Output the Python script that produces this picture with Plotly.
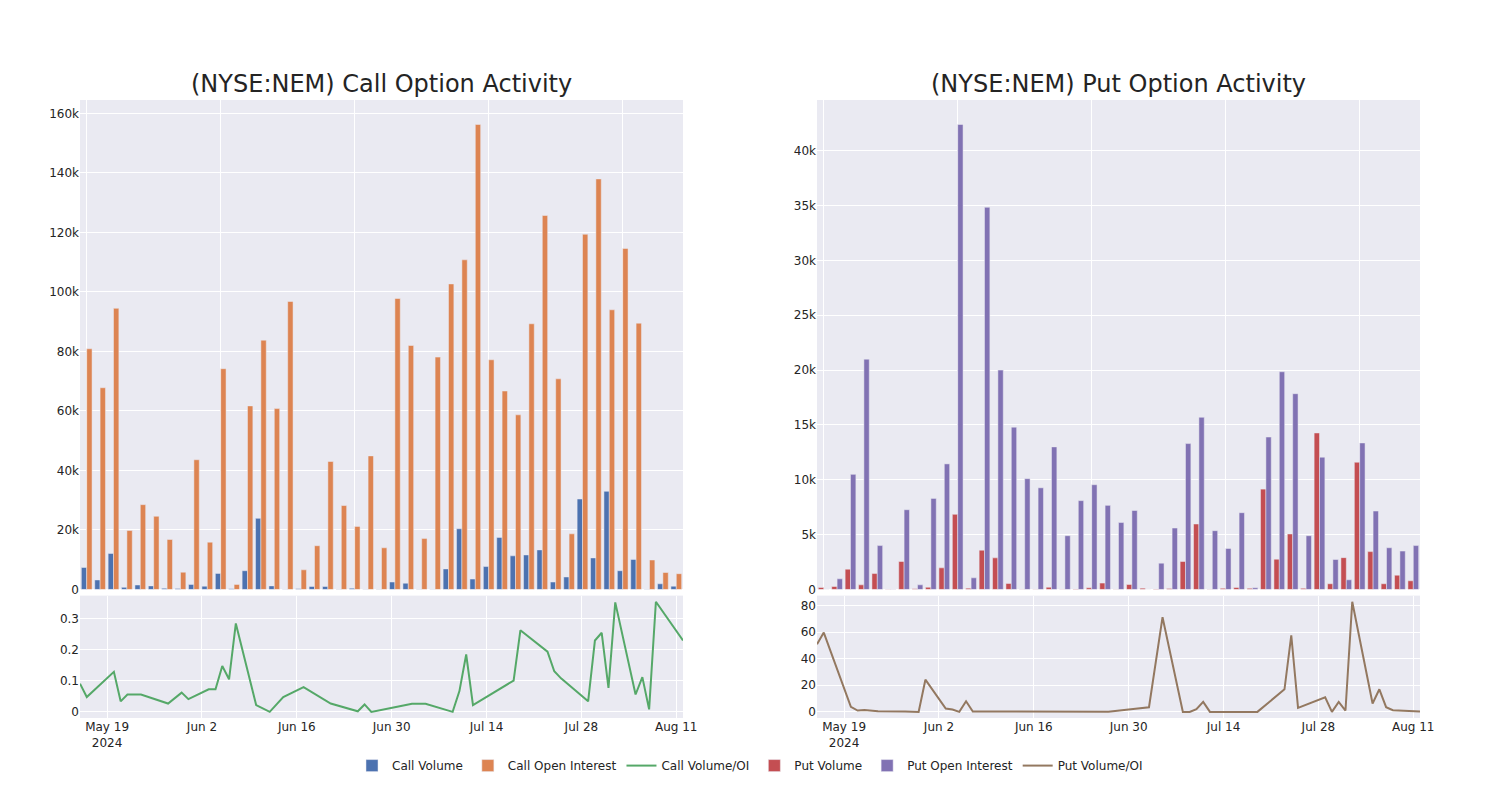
import plotly.graph_objects as go
from plotly.subplots import make_subplots

dates = ["2024-05-15", "2024-05-16", "2024-05-20", "2024-05-21", "2024-05-22", "2024-05-24",
         "2024-05-28", "2024-05-30", "2024-05-31", "2024-06-03", "2024-06-04", "2024-06-05",
         "2024-06-06", "2024-06-07", "2024-06-10", "2024-06-12", "2024-06-14", "2024-06-17",
         "2024-06-21", "2024-06-25", "2024-06-26", "2024-06-27", "2024-07-01", "2024-07-03",
         "2024-07-05", "2024-07-08", "2024-07-09", "2024-07-10", "2024-07-11", "2024-07-12",
         "2024-07-18", "2024-07-19", "2024-07-23", "2024-07-24", "2024-07-25", "2024-07-29",
         "2024-07-30", "2024-07-31", "2024-08-01", "2024-08-02", "2024-08-05", "2024-08-06",
         "2024-08-07", "2024-08-08", "2024-08-12"]

call_volume = [7400, 3200, 12100, 700, 1500, 1200, 400, 300, 1700, 1100, 5400, 250, 6300, 23900,
               1200, 50, 200, 1000, 1000, 50, 400, 50, 100, 2500, 2100, 100, 50, 6900, 20400,
               3500, 7700, 17500, 11300, 11600, 13300, 2500, 4200, 30400, 10600, 33000, 6300,
               10100, 100, 1900, 1100]
call_oi = [80900, 67800, 94500, 19800, 28500, 24600, 16800, 5800, 43600, 15900, 74200, 1700,
           61700, 83800, 60800, 96800, 6600, 14700, 43000, 28200, 21200, 44900, 14000, 97800,
           82000, 17100, 78100, 102700, 110800, 156300, 77200, 66700, 58700, 89300, 125700,
           70800, 18700, 119400, 138000, 94000, 114600, 89500, 9900, 5700, 5300]
call_ratio = [0.091, 0.048, 0.129, 0.034, 0.056, 0.056, 0.027, 0.062, 0.041, 0.073, 0.073,
              0.148, 0.105, 0.285, 0.022, 0.0, 0.048, 0.080, 0.027, 0.002, 0.024, 0.0, 0.017,
              0.026, 0.026, 0.006, 0.0, 0.067, 0.185, 0.022, 0.101, 0.263, 0.194, 0.131, 0.108,
              0.034, 0.230, 0.255, 0.077, 0.353, 0.056, 0.112, 0.008, 0.355, 0.230]

put_volume = [180, 270, 1850, 420, 1450, 30, 2550, 60, 200, 1970, 6850, 120, 3580, 2880, 550,
              20, 20, 200, 30, 50, 150, 580, 20, 450, 120, 50, 80, 2550, 5970, 20, 100, 180,
              100, 9150, 2760, 5060, 100, 14270, 520, 2900, 11600, 3450, 520, 1300, 790]
put_oi = [4, 970, 10500, 21000, 4000, 30, 7270, 420, 8300, 11450, 42400, 1060, 34850, 20000,
          14800, 10100, 9270, 13000, 4900, 8100, 9550, 7670, 6100, 7200, 2, 2400, 5600, 13300,
          15700, 5360, 3730, 7000, 150, 13900, 19850, 17850, 4900, 12060, 2730, 880, 13360,
          7150, 3800, 3500, 4000]
put_ratio = [50.8, 59.6, 3.8, 1.0, 1.5, 0.5, 0.3, 0.0, 24.2, 2.5, 1.8, 0.0, 8.0, 0.3, 0.3, 0.25,
             0.2, 0.2, 0.15, 0.1, 0.1, 0.1, 2.3, 3.5, 71.2, 0.0, 0.0, 2.0, 7.5, 0.0, 0.0, 0.0,
             17.0, 57.6, 3.0, 11.0, 0.0, 7.5, 1.0, 82.8, 6.3, 17.0, 3.5, 1.3, 0.3]

titles = ["(NYSE:NEM) Call Option Activity", "(NYSE:NEM) Put Option Activity"]

fig = make_subplots(rows=2, cols=2, row_heights=[0.8, 0.2], vertical_spacing=0.01,
                    horizontal_spacing=0.1, subplot_titles=titles)

fig.add_trace(go.Bar(x=dates, y=call_volume, name="Call Volume", marker_color="#4c72b0"), row=1, col=1)
fig.add_trace(go.Bar(x=dates, y=call_oi, name="Call Open Interest", marker_color="#dd8452"), row=1, col=1)
fig.add_trace(go.Scatter(x=dates, y=call_ratio, name="Call Volume/OI", mode="lines",
                         line=dict(color="#55a868", width=2)), row=2, col=1)
fig.add_trace(go.Bar(x=dates, y=put_volume, name="Put Volume", marker_color="#c44e52"), row=1, col=2)
fig.add_trace(go.Bar(x=dates, y=put_oi, name="Put Open Interest", marker_color="#8172b3"), row=1, col=2)
fig.add_trace(go.Scatter(x=dates, y=put_ratio, name="Put Volume/OI", mode="lines",
                         line=dict(color="#937860", width=2)), row=2, col=2)

fig.update_layout(
    template="seaborn",
    width=1484, height=784,
    margin=dict(l=72, r=72, t=92, b=72),
    font=dict(family="DejaVu Sans", size=12),
    barmode="group",
    legend=dict(orientation="h", x=0.5, xanchor="center", y=-0.077, yanchor="middle",
                font=dict(size=12)),
)
for ann in fig.layout.annotations:
    ann.font = dict(size=24, family="DejaVu Sans")

top_ticks = [dates[i] for i in range(0, len(dates), 10)]
for ax in ["xaxis", "xaxis2"]:
    fig.layout[ax].update(type="category", tickmode="array", tickvals=top_ticks,
                          showticklabels=False)
for ax in ["xaxis3", "xaxis4"]:
    fig.layout[ax].update(type="date", dtick=14 * 86400000, tick0="2024-05-19")

fig.layout.xaxis.domain = [0, 0.45]
fig.layout.xaxis3.domain = [0, 0.45]
fig.layout.xaxis2.domain = [0.55, 1]
fig.layout.xaxis4.domain = [0.55, 1]
fig.layout.yaxis.domain = [0.208, 1]
fig.layout.yaxis2.domain = [0.208, 1]
fig.layout.yaxis3.domain = [0, 0.198]
fig.layout.yaxis4.domain = [0, 0.198]

fig.write_html("out.html")
